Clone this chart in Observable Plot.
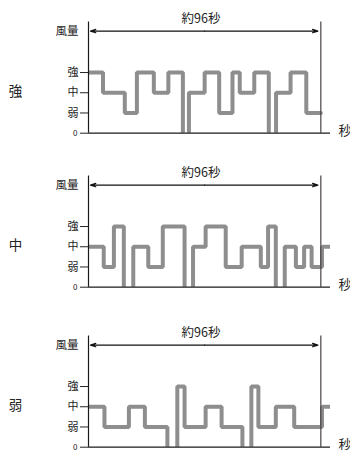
<!DOCTYPE html>
<html>
<head>
<meta charset="utf-8">
<script src="https://cdn.jsdelivr.net/npm/d3@7"></script>
<script src="https://cdn.jsdelivr.net/npm/@observablehq/plot@0.6"></script>
<style>
  html, body { margin: 0; padding: 0; background: #fff; overflow: hidden; }
  #chart svg { display: block; }
</style>
</head>
<body>
<div id="chart"></div>
<script>
// ---- data ----
const levelLabels = ["0", "弱", "中", "強"];   // tick labels for levels 0..3
const panelLabels = ["強", "中", "弱"];         // setting of each panel
const yTitle = "風量";
const xTitle = "秒";
const spanLabel = "約96秒";
const spanSeconds = 96;

// 強 setting: step times (s) and levels
const times1  = [0, 6, 15, 20, 27, 33, 39, 41.5, 48, 54, 59.5, 62.5, 68.5, 74.5, 77.5, 83.5, 90, 96];
const levels1 = [3, 2, 1, 3, 2, 3, 0, 2, 3, 1, 3, 2, 3, 0, 2, 3, 1, 1];

// 中 setting
const times2  = [0, 6.3, 10.5, 14.6, 18.5, 24.7, 30.7, 39.7, 43.2, 48.4, 56.7, 63.3, 71.2, 74.2, 77.4, 81.1, 85.7, 89.1, 92.2, 96.5, 100];
const levels2 = [2, 1, 3, 0, 2, 1, 3, 0, 2, 3, 1, 2, 1, 3, 0, 2, 1, 2, 1, 2, 2];

// 弱 setting
const times3  = [0, 6.6, 16.7, 23.3, 32.6, 36.7, 39.7, 48.4, 55, 63.6, 67.3, 70.2, 77.4, 85, 96.5, 100];
const levels3 = [2, 1, 2, 1, 0, 3, 1, 2, 1, 0, 3, 1, 2, 1, 2, 2];

const baselineEnd = 100;
const topLevel = 5.5;
const arrowLevel = 5.05;
const titleLevel = 5.65;

function panel(times, levels, label, height) {
  const data = times.map((t, i) => ({t, v: levels[i], vDraw: levels[i] === 0 ? -0.15 : levels[i]}));
  const baseY = 132.7;
  return Plot.plot({
    width: 350,
    height,
    marginLeft: 88,
    marginRight: 20,
    marginTop: 21.5,
    marginBottom: height - baseY,
    x: {domain: [0, baselineEnd], axis: null, label: null},
    y: {domain: [0, topLevel], axis: null, label: null},
    style: {fontFamily: "'Noto Sans CJK JP', 'Noto Sans', sans-serif", background: "#fff", overflow: "visible"},
    marks: [
      // zero-level runs sit under the baseline (hidden by the frame clip)
      Plot.line(data, {x: "t", y: "vDraw", curve: "step-after", stroke: "#8e8e8e", strokeWidth: 4, strokeLinejoin: "miter", clip: "frame"}),
      Plot.ruleX([{x: 0}], {x: "x", y1: 0, y2: topLevel, stroke: "#1a1a1a", strokeWidth: 1.2}),
      Plot.ruleX([{x: spanSeconds}], {x: "x", y1: 0, y2: topLevel, stroke: "#4a4444", strokeWidth: 1.2}),
      Plot.ruleY([{y: 0}], {y: "y", x1: 0, x2: baselineEnd, stroke: "#1a1a1a", strokeWidth: 1.2}),
      Plot.axisY({ticks: [1, 2, 3], tickFormat: d => levelLabels[d], tickSize: 8, tickPadding: 2, fontSize: 11, color: "#222", strokeWidth: 1, label: null}),
      Plot.axisY({ticks: [0], tickFormat: d => levelLabels[d], tickSize: 8, tickPadding: 3, fontSize: 8, color: "#222", strokeWidth: 1, label: null}),
      Plot.arrow([{a: spanSeconds / 2, b: 0.8}, {a: spanSeconds / 2, b: spanSeconds - 1.2}],
        {x1: "a", x2: "b", y1: arrowLevel, y2: arrowLevel, stroke: "#111", strokeWidth: 1.2, headLength: 7, headAngle: 35}),
      Plot.text([spanLabel], {x: spanSeconds / 2 - 1.5, y: titleLevel, text: d => d, fontSize: 12.5, fill: "#222"}),
      Plot.text([yTitle], {x: 0, y: arrowLevel, text: d => d, textAnchor: "end", dx: -10, fontSize: 11.5, fill: "#222"}),
      Plot.text([xTitle], {x: baselineEnd, y: 0, text: d => d, textAnchor: "start", dx: 8, dy: -2, fontSize: 13, fill: "#222"}),
      Plot.text([label], {x: 0, y: 2.05, text: d => d, textAnchor: "middle", dx: -73, fontSize: 13.5, fill: "#222"})
    ]
  });
}

const root = document.getElementById("chart");
root.appendChild(panel(times1, levels1, panelLabels[0], 154));
root.appendChild(panel(times2, levels2, panelLabels[1], 160));
root.appendChild(panel(times3, levels3, panelLabels[2], 160));
</script>
</body>
</html>
